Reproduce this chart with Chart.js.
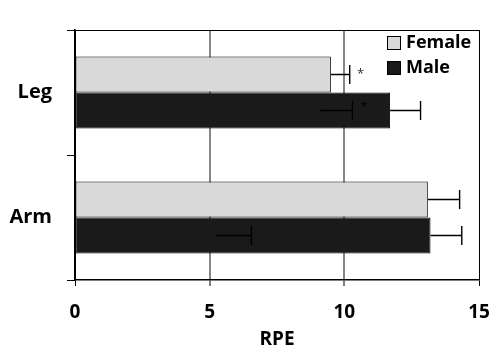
<!DOCTYPE html>
<html><head><meta charset="utf-8">
<script src="https://cdn.jsdelivr.net/npm/chart.js@4/dist/chart.umd.min.js"></script>
<style>html,body{margin:0;padding:0;background:#fff}#w{width:500px;height:363px}</style>
</head><body><div id="w"><canvas id="c" width="500" height="363"></canvas></div>
<script>
const categories = ['Leg', 'Arm'];
const femaleValues = [9.5, 13.1];
const maleValues = [11.7, 13.2];
const femaleErr = [0.7, 1.18];
const maleErr = [1.13, 1.16];
// stray inner error marks visible on male bars (from, to)
const maleInnerFrom = [9.1, 5.25];
const maleInnerTo = [10.3, 6.55];
// significance asterisks (x value), null = none
const femaleStar = [10.6, null];
const maleStar = [10.72, null];
const xTicks = [0, 5, 10, 15];

const FONT = "'Open Sans', 'Liberation Sans', sans-serif";

const overlay = {
  id: 'overlay',
  afterDatasetsDraw(chart) {
    const ctx = chart.ctx, xs = chart.scales.x, ca = chart.chartArea;
    ctx.save();
    ctx.strokeStyle = '#000'; ctx.lineWidth = 1;
    ctx.beginPath(); ctx.moveTo(ca.left, ca.top + 0.5); ctx.lineTo(ca.right, ca.top + 0.5); ctx.stroke();
    const errs = [femaleErr, maleErr];
    const vals = [femaleValues, maleValues];
    ctx.lineWidth = 1.4; ctx.strokeStyle = '#000';
    [0, 1].forEach(d => {
      const meta = chart.getDatasetMeta(d);
      meta.data.forEach((bar, i) => {
        const y = bar.y;
        const x0 = xs.getPixelForValue(vals[d][i]);
        const x1 = xs.getPixelForValue(vals[d][i] + errs[d][i]);
        ctx.beginPath(); ctx.moveTo(x0, y); ctx.lineTo(x1, y);
        ctx.moveTo(x1, y - 9.5); ctx.lineTo(x1, y + 9.5); ctx.stroke();
      });
    });
    const mm = chart.getDatasetMeta(1);
    mm.data.forEach((bar, i) => {
      const y = bar.y;
      const a = xs.getPixelForValue(maleInnerFrom[i]);
      const b = xs.getPixelForValue(maleInnerTo[i]);
      ctx.strokeStyle = '#000'; ctx.lineWidth = 1.4;
      ctx.beginPath(); ctx.moveTo(a, y); ctx.lineTo(b, y);
      ctx.moveTo(b, y - 9.5); ctx.lineTo(b, y + 9.5); ctx.stroke();
    });
    ctx.font = "13px " + FONT; ctx.textAlign = 'center'; ctx.textBaseline = 'middle';
    const fm = chart.getDatasetMeta(0);
    fm.data.forEach((bar, i) => {
      if (femaleStar[i] != null) { ctx.fillStyle = '#333'; ctx.fillText('*', xs.getPixelForValue(femaleStar[i]), bar.y); }
    });
    mm.data.forEach((bar, i) => {
      if (maleStar[i] != null) { ctx.fillStyle = '#000'; ctx.fillText('*', xs.getPixelForValue(maleStar[i]), bar.y - 3); }
    });
    const lx = 387, ly = [43, 68];
    chart.data.datasets.forEach((ds, k) => {
      ctx.fillStyle = ds.backgroundColor; ctx.strokeStyle = '#000'; ctx.lineWidth = 1;
      ctx.fillRect(lx, ly[k] - 7, 14, 14);
      ctx.strokeRect(lx + 0.5, ly[k] - 6.5, 13, 13);
      ctx.fillStyle = '#000'; ctx.font = "bold 18px " + FONT; ctx.textAlign = 'left'; ctx.textBaseline = 'middle';
      ctx.fillText(ds.label, lx + 19, ly[k]);
    });
    ctx.restore();
  }
};

new Chart(document.getElementById('c'), {
  type: 'bar',
  data: {
    labels: categories,
    datasets: [
      { label: 'Female', data: femaleValues, backgroundColor: '#d9d9d9', borderColor: '#000', borderWidth: 1, borderSkipped: false },
      { label: 'Male', data: maleValues, backgroundColor: '#1a1a1a', borderColor: '#000', borderWidth: 1, borderSkipped: false }
    ]
  },
  options: {
    indexAxis: 'y',
    responsive: false,
    animation: false,
    layout: { padding: { left: 0, right: 21, top: 30, bottom: 0 } },
    datasets: { bar: { categoryPercentage: 0.576, barPercentage: 1 } },
    plugins: { legend: { display: false }, tooltip: { enabled: false } },
    scales: {
      x: {
        min: 0, max: 15,
        afterBuildTicks(s) { s.ticks = xTicks.map(v => ({ value: v })); },
        afterFit(s) { s.height = 83; s.paddingLeft = 0; s.paddingRight = 0; },
        border: { display: true, color: '#000', width: 1.5 },
        grid: {
          color: c => c.tick && (c.tick.value === 15 || c.tick.value === 0) ? '#000' : '#868686',
          lineWidth: c => c.tick && (c.tick.value === 15 || c.tick.value === 0) ? 1 : 2,
          tickColor: '#000', tickWidth: 1, tickLength: 6, drawTicks: true
        },
        ticks: { color: '#000', font: { family: FONT, size: 19, weight: 'bold', lineHeight: 1 }, padding: 17, maxRotation: 0 },
        title: { display: true, text: 'RPE', color: '#000', font: { family: FONT, size: 19, weight: 'bold' }, padding: { top: 1, bottom: 12 } }
      },
      y: {
        afterFit(s) { s.width = 75; s.paddingTop = 0; s.paddingBottom = 0; },
        border: { display: true, color: '#000', width: 1.5 },
        grid: { offset: true, drawOnChartArea: false, tickColor: '#000', tickLength: 8, tickWidth: 1 },
        ticks: { color: '#000', font: { family: FONT, size: 20, weight: 'bold' }, padding: 15 }
      }
    }
  },
  plugins: [overlay]
});
</script></body></html>
